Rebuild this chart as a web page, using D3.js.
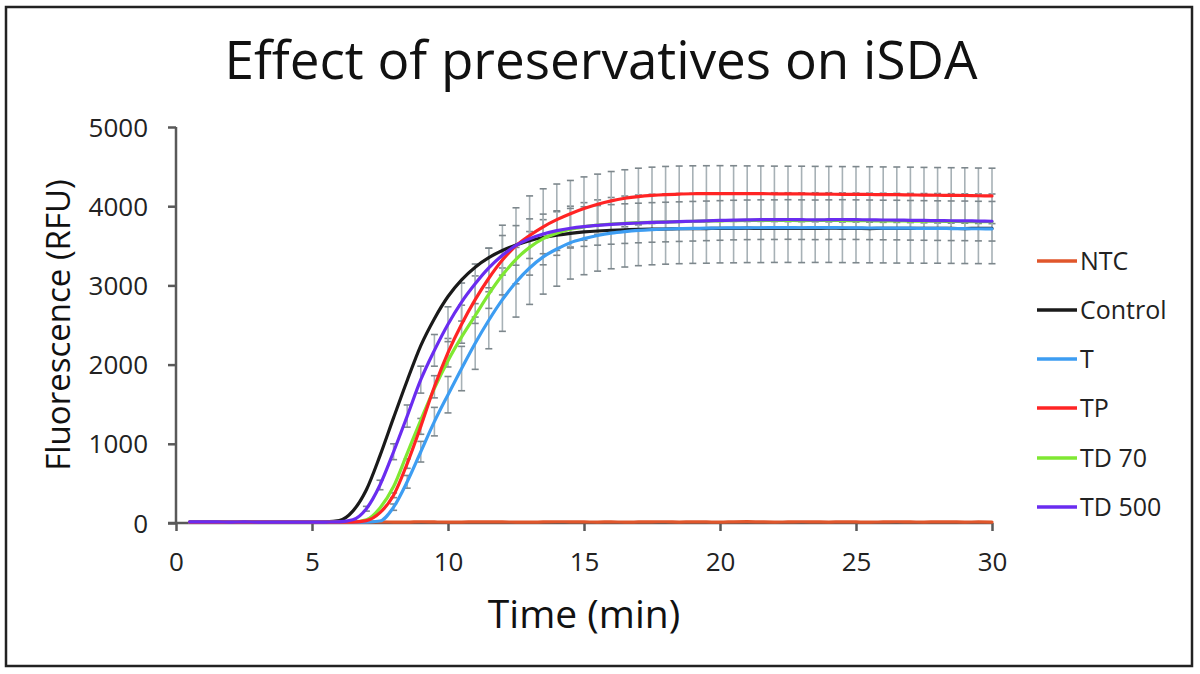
<!DOCTYPE html>
<html><head><meta charset="utf-8">
<script src="https://cdn.jsdelivr.net/npm/d3@7/dist/d3.min.js"></script>
<style>html,body{margin:0;padding:0;background:#fff;}svg{display:block;font-family:"Open Sans",sans-serif;}</style>
</head><body>
<svg id="chart" width="1200" height="674"></svg>
<script>
const title = "Effect of preservatives on iSDA";
const xLabel = "Time (min)";
const yLabel = "Fluorescence (RFU)";
const xTicks = [0, 5, 10, 15, 20, 25, 30];
const yTicks = [0, 1000, 2000, 3000, 4000, 5000];
const seriesNames = ["NTC", "Control", "T", "TP", "TD 70", "TD 500"];
const seriesColors = ["#e0562b", "#1a1a1a", "#3d9df2", "#ff2424", "#7fe832", "#6a2cf0"];

const time = [0.5,1,1.5,2,2.5,3,3.5,4,4.5,5,5.5,6,6.5,7,7.5,8,8.5,9,9.5,10,
  10.5,11,11.5,12,12.5,13,13.5,14,14.5,15,15.5,16,16.5,17,17.5,18,18.5,19,19.5,20,
  20.5,21,21.5,22,22.5,23,23.5,24,24.5,25,25.5,26,26.5,27,27.5,28,28.5,29,29.5,30];

const ntc = [10,12,8,10,14,9,11,13,10,12,15,11,9,13,14,12,10,16,13,11,
  12,14,15,13,12,10,14,16,15,13,12,14,11,13,15,16,12,14,13,11,
  15,17,14,12,13,16,14,12,15,13,11,14,16,13,12,15,14,12,13,11];
const control = [12,10,11,9,10,12,11,10,12,11,14,30,150,420,850,1330,1800,2240,2580,2860,
  3070,3230,3350,3440,3510,3565,3605,3635,3658,3675,3687,3696,3702,3707,3710,3712,3715,3716,3718,3720,
  3720,3722,3720,3721,3720,3719,3720,3722,3721,3720,3718,3720,3719,3720,3721,3720,3719,3718,3720,3719];
const tSeries = [11,10,12,10,11,9,10,12,11,10,11,12,10,11,25,200,520,900,1280,1620,
  1950,2270,2560,2820,3040,3220,3360,3460,3540,3590,3630,3660,3680,3695,3705,3712,3717,3720,3722,3725,
  3726,3728,3728,3730,3730,3728,3730,3730,3728,3726,3725,3724,3722,3722,3720,3720,3718,3716,3715,3714];
const tp = [12,11,10,12,11,10,12,11,10,11,12,11,12,30,130,350,750,1220,1720,2150,
  2510,2820,3090,3320,3500,3630,3740,3830,3905,3970,4025,4068,4100,4122,4137,4147,4153,4157,4159,4160,
  4160,4158,4158,4156,4155,4155,4153,4152,4150,4150,4148,4146,4145,4143,4140,4138,4136,4135,4132,4130];
const td70 = [10,11,12,10,11,12,10,11,12,11,10,12,14,40,190,460,880,1300,1700,2050,
  2350,2620,2890,3130,3330,3480,3590,3660,3710,3740,3760,3775,3785,3792,3797,3801,3805,3809,3812,3815,
  3818,3820,3820,3822,3820,3818,3820,3822,3820,3818,3816,3815,3814,3812,3810,3810,3808,3806,3805,3804];
const td500 = [15,14,13,12,13,12,11,12,11,10,12,15,40,180,480,900,1350,1810,2180,2510,
  2790,3020,3220,3380,3505,3590,3650,3692,3722,3743,3758,3770,3780,3788,3795,3800,3805,3810,3815,3820,
  3825,3828,3830,3830,3832,3830,3828,3830,3832,3830,3828,3826,3825,3822,3820,3818,3816,3815,3812,3810];

// standard deviations (error bars)
const tSD = [5,5,5,5,5,5,5,5,5,5,5,5,5,5,10,40,80,130,180,230,
  280,330,360,400,440,460,470,470,460,455,450,450,448,446,445,444,443,442,442,441,
  441,440,440,440,440,440,440,440,440,440,440,440,440,440,440,440,440,440,440,440];
const tpSD = [5,5,5,5,5,5,5,5,5,5,5,5,5,5,10,30,60,100,140,180,
  240,300,380,440,480,500,480,450,420,400,380,370,360,358,356,355,354,353,352,352,
  351,351,350,350,350,350,350,350,350,350,350,350,350,350,350,350,350,350,350,350];
const td500SD = [5,5,5,5,5,5,5,5,5,5,5,5,10,30,60,100,140,170,200,220,
  240,250,250,250,250,250,250,250,250,250,250,250,250,250,250,250,250,250,250,250,
  250,250,250,250,250,250,250,250,250,250,250,250,250,250,250,250,250,250,250,250];

const seriesValues = [ntc, control, tSeries, tp, td70, td500];
const errorSets = [[tSeries, tSD], [tp, tpSD], [td500, td500SD]];
const drawOrder = [0, 1, 4, 2, 3, 5];

const svg = d3.select("#chart");
const x = d3.scaleLinear().domain([0, 30]).range([176, 992]);
const y = d3.scaleLinear().domain([0, 5000]).range([523, 127]);

// frame
svg.append("rect").attr("x", 6).attr("y", 7).attr("width", 1186).attr("height", 659)
  .attr("fill", "#fff").attr("stroke", "#222").attr("stroke-width", 2.5);

// title
svg.append("text").attr("x", 601).attr("y", 79).attr("text-anchor", "middle")
  .attr("font-size", 53).attr("fill", "#111").text(title);

// error bars
const eb = svg.append("g").attr("stroke", "#a7b1b6").attr("stroke-width", 1.6);
errorSets.forEach(([vals, sd]) => {
  time.forEach((t, i) => {
    if (sd[i] < 20) return;
    const cx = x(t), y1 = y(vals[i] - sd[i]), y2 = y(vals[i] + sd[i]);
    eb.append("line").attr("x1", cx).attr("x2", cx).attr("y1", y1).attr("y2", y2);
    eb.append("line").attr("x1", cx - 3.5).attr("x2", cx + 3.5).attr("y1", y1).attr("y2", y1).attr("stroke", "#7d878c");
    eb.append("line").attr("x1", cx - 3.5).attr("x2", cx + 3.5).attr("y1", y2).attr("y2", y2).attr("stroke", "#7d878c");
  });
});

// axes
const axisColor = "#595959";
const yAxis = svg.append("g").attr("transform", "translate(176,0)")
  .call(d3.axisLeft(y).tickValues(yTicks).tickSize(8).tickPadding(20).tickFormat(d3.format("d")));
const xAxis = svg.append("g").attr("transform", "translate(0,523)")
  .call(d3.axisBottom(x).tickValues(xTicks).tickSize(8).tickPadding(22).tickFormat(d3.format("d")));
[yAxis, xAxis].forEach(a => {
  a.select(".domain").attr("stroke", axisColor).attr("stroke-width", 2.5);
  a.selectAll(".tick line").attr("stroke", axisColor).attr("stroke-width", 2.5);
  a.selectAll(".tick text").attr("fill", "#222").attr("font-size", 26)
    .attr("font-family", "'Open Sans', sans-serif");
});
yAxis.select(".domain").attr("d", "M0,127V523");
xAxis.select(".domain").attr("d", "M168,0H992");
yAxis.selectAll(".tick text").attr("dy", "0.35em");

// lines
const line = d3.line().x((d, i) => x(time[i])).y(d => y(d)).curve(d3.curveMonotoneX);
drawOrder.forEach(k => {
  svg.append("path").datum(seriesValues[k]).attr("d", line)
    .attr("fill", "none").attr("stroke", seriesColors[k]).attr("stroke-width", 3.2)
    .attr("stroke-linejoin", "round").attr("stroke-linecap", "round");
});

// axis labels
svg.append("text").attr("x", 584).attr("y", 628).attr("text-anchor", "middle")
  .attr("font-size", 39).attr("fill", "#111").text(xLabel);
svg.append("text").attr("transform", "translate(70,325) rotate(-90)").attr("text-anchor", "middle")
  .attr("font-size", 33).attr("fill", "#111").text(yLabel);

// legend
const legend = svg.append("g");
const legendY = [261, 310, 359, 408, 458, 507];
seriesNames.forEach((name, i) => {
  legend.append("line").attr("x1", 1037).attr("x2", 1077).attr("y1", legendY[i]).attr("y2", legendY[i])
    .attr("stroke", seriesColors[i]).attr("stroke-width", 3.5);
  legend.append("text").attr("x", 1080).attr("y", legendY[i]).attr("dy", "0.35em")
    .attr("font-size", 25).attr("fill", "#222").text(name);
});
</script>
</body></html>
